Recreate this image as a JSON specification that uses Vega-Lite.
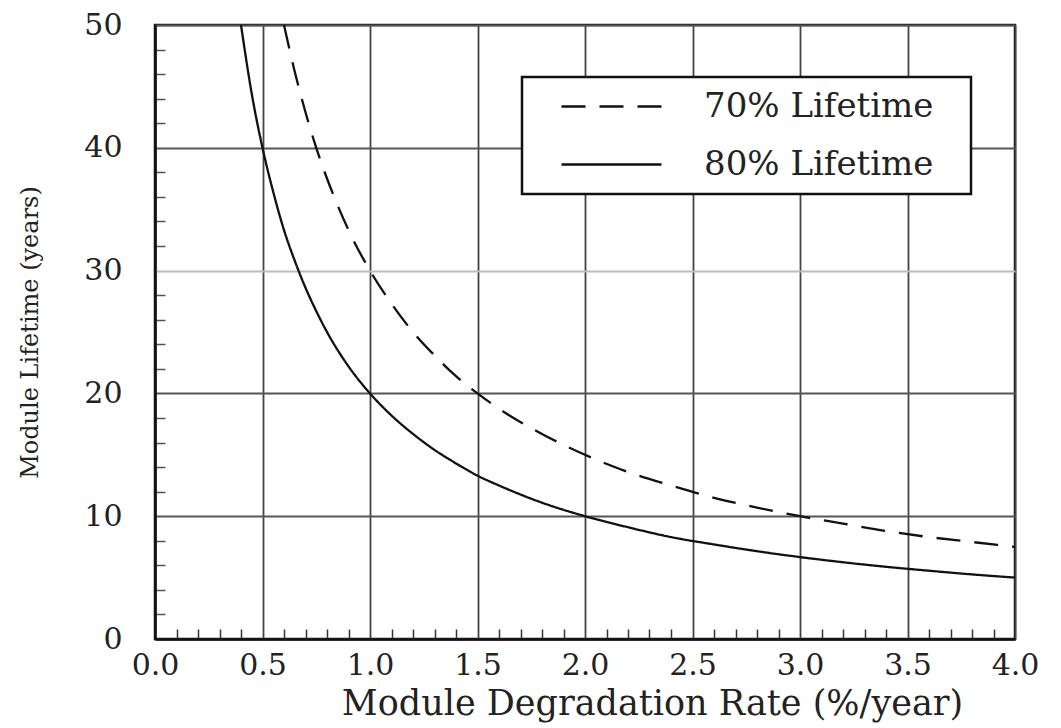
{
  "$schema": "https://vega.github.io/schema/vega-lite/v6.json",
  "autosize": "none",
  "padding": {"left": 155, "top": 25, "right": 46, "bottom": 89},
  "width": 860,
  "height": 614,
  "background": "white",
  "config": {
    "font": "DejaVu Serif",
    "view": {"stroke": "#111", "strokeWidth": 2.5},
    "axis": {"labelFont": "DejaVu Serif", "titleFont": "DejaVu Serif", "labelColor": "#222", "titleColor": "#222", "titleFontWeight": "normal", "labelFlush": false}
  },
  "data": {
    "values": [
      {"rate": 0.4, "life": 50, "series": "80% Lifetime"},
      {"rate": 0.45, "life": 44.4, "series": "80% Lifetime"},
      {"rate": 0.5, "life": 40, "series": "80% Lifetime"},
      {"rate": 0.55, "life": 36.4, "series": "80% Lifetime"},
      {"rate": 0.6, "life": 33.3, "series": "80% Lifetime"},
      {"rate": 0.65, "life": 30.8, "series": "80% Lifetime"},
      {"rate": 0.7, "life": 28.6, "series": "80% Lifetime"},
      {"rate": 0.75, "life": 26.7, "series": "80% Lifetime"},
      {"rate": 0.8, "life": 25, "series": "80% Lifetime"},
      {"rate": 0.9, "life": 22.2, "series": "80% Lifetime"},
      {"rate": 1.0, "life": 20, "series": "80% Lifetime"},
      {"rate": 1.1, "life": 18.2, "series": "80% Lifetime"},
      {"rate": 1.2, "life": 16.7, "series": "80% Lifetime"},
      {"rate": 1.3, "life": 15.4, "series": "80% Lifetime"},
      {"rate": 1.4, "life": 14.3, "series": "80% Lifetime"},
      {"rate": 1.5, "life": 13.3, "series": "80% Lifetime"},
      {"rate": 1.6, "life": 12.5, "series": "80% Lifetime"},
      {"rate": 1.8, "life": 11.1, "series": "80% Lifetime"},
      {"rate": 2.0, "life": 10, "series": "80% Lifetime"},
      {"rate": 2.2, "life": 9.1, "series": "80% Lifetime"},
      {"rate": 2.4, "life": 8.3, "series": "80% Lifetime"},
      {"rate": 2.6, "life": 7.7, "series": "80% Lifetime"},
      {"rate": 2.8, "life": 7.15, "series": "80% Lifetime"},
      {"rate": 3.0, "life": 6.67, "series": "80% Lifetime"},
      {"rate": 3.2, "life": 6.25, "series": "80% Lifetime"},
      {"rate": 3.4, "life": 5.88, "series": "80% Lifetime"},
      {"rate": 3.6, "life": 5.56, "series": "80% Lifetime"},
      {"rate": 3.8, "life": 5.26, "series": "80% Lifetime"},
      {"rate": 4.0, "life": 5.0, "series": "80% Lifetime"},
      {"rate": 0.6, "life": 50, "series": "70% Lifetime"},
      {"rate": 0.65, "life": 46.2, "series": "70% Lifetime"},
      {"rate": 0.7, "life": 42.9, "series": "70% Lifetime"},
      {"rate": 0.75, "life": 40, "series": "70% Lifetime"},
      {"rate": 0.8, "life": 37.5, "series": "70% Lifetime"},
      {"rate": 0.85, "life": 35.3, "series": "70% Lifetime"},
      {"rate": 0.9, "life": 33.3, "series": "70% Lifetime"},
      {"rate": 1.0, "life": 30, "series": "70% Lifetime"},
      {"rate": 1.1, "life": 27.3, "series": "70% Lifetime"},
      {"rate": 1.2, "life": 25, "series": "70% Lifetime"},
      {"rate": 1.3, "life": 23.1, "series": "70% Lifetime"},
      {"rate": 1.4, "life": 21.4, "series": "70% Lifetime"},
      {"rate": 1.5, "life": 20, "series": "70% Lifetime"},
      {"rate": 1.6, "life": 18.75, "series": "70% Lifetime"},
      {"rate": 1.8, "life": 16.7, "series": "70% Lifetime"},
      {"rate": 2.0, "life": 15, "series": "70% Lifetime"},
      {"rate": 2.2, "life": 13.6, "series": "70% Lifetime"},
      {"rate": 2.4, "life": 12.5, "series": "70% Lifetime"},
      {"rate": 2.6, "life": 11.5, "series": "70% Lifetime"},
      {"rate": 2.8, "life": 10.7, "series": "70% Lifetime"},
      {"rate": 3.0, "life": 10, "series": "70% Lifetime"},
      {"rate": 3.2, "life": 9.4, "series": "70% Lifetime"},
      {"rate": 3.4, "life": 8.8, "series": "70% Lifetime"},
      {"rate": 3.6, "life": 8.3, "series": "70% Lifetime"},
      {"rate": 3.8, "life": 7.9, "series": "70% Lifetime"},
      {"rate": 4.0, "life": 7.5, "series": "70% Lifetime"}
    ]
  },
  "layer": [
    {
      "mark": {"type": "line", "strokeOpacity": 0},
      "encoding": {
        "x": {"field": "rate", "type": "quantitative", "scale": {"domain": [0, 4], "nice": false, "zero": false},
          "axis": {"orient": "bottom", "values": [0.1,0.2,0.3,0.4,0.6,0.7,0.8,0.9,1.1,1.2,1.3,1.4,1.6,1.7,1.8,1.9,2.1,2.2,2.3,2.4,2.6,2.7,2.8,2.9,3.1,3.2,3.3,3.4,3.6,3.7,3.8,3.9],
            "labels": false, "grid": false, "domain": false, "ticks": true, "tickSize": -10, "tickColor": "#333", "tickWidth": 1.5, "title": null}},
        "y": {"field": "life", "type": "quantitative", "scale": {"domain": [0, 50], "nice": false},
          "axis": {"orient": "left", "values": [2,4,6,8,12,14,16,18,22,24,26,28,32,34,36,38,42,44,46,48],
            "labels": false, "grid": false, "domain": false, "ticks": true, "tickSize": -10, "tickColor": "#555", "tickWidth": 1.5, "title": null}}
      }
    },
    {
      "mark": {"type": "line", "color": "#111", "strokeWidth": 2.3, "interpolate": "monotone", "clip": true},
      "encoding": {
        "x": {"field": "rate", "type": "quantitative", "scale": {"domain": [0, 4], "nice": false, "zero": false},
          "axis": {"orient": "bottom", "values": [0,0.5,1,1.5,2,2.5,3,3.5,4], "format": ".1f", "grid": true, "gridColor": "#444", "gridWidth": 1.8, "gridOpacity": 1,
            "ticks": false, "domain": true, "domainColor": "#111", "domainWidth": 2.5, "labelFontSize": 30, "labelPadding": 11,
            "title": "Module Degradation Rate (%/year)", "titleFontSize": 35, "titleX": 497, "titleY": 75, "titleBaseline": "alphabetic", "titleAlign": "center"}},
        "y": {"field": "life", "type": "quantitative", "scale": {"domain": [0, 50], "nice": false},
          "axis": {"orient": "left", "values": [0,10,20,30,40,50], "grid": true,
            "gridColor": {"condition": {"test": "datum.value === 30", "value": "#bbb"}, "value": "#555"},
            "gridWidth": 1.8, "gridOpacity": 1,
            "ticks": false, "domain": true, "domainColor": "#111", "domainWidth": 2.5, "labelFontSize": 30, "labelPadding": 33,
            "title": "Module Lifetime (years)", "titleFontSize": 24, "titleX": -125, "titleY": 307, "titleAngle": -90, "titleBaseline": "middle", "titleAlign": "center"}},
        "strokeDash": {"field": "series", "type": "nominal",
          "scale": {"domain": ["70% Lifetime", "80% Lifetime"], "range": [[24, 14], [1, 0]]},
          "legend": {"title": null, "orient": "none", "legendX": 367, "legendY": 52, "fillColor": "white", "strokeColor": "#111",
            "padding": 12, "symbolType": "M-3.125,0H3.125", "symbolSize": 1024, "symbolStrokeWidth": 2.3, "symbolStrokeColor": "#111", "symbolFillColor": "transparent", "symbolOffset": 60,
            "labelOffset": 75, "labelFont": "DejaVu Serif", "labelFontSize": 34, "labelColor": "#222", "rowPadding": 23, "labelExpr": "datum.label + '\u2800'", "labelLimit": 500,
            "encode": {"legend": {"update": {"strokeWidth": {"value": 2.5}}}}}}
      }
    }
  ],
  "resolve": {"axis": {"x": "independent", "y": "independent"}}
}
